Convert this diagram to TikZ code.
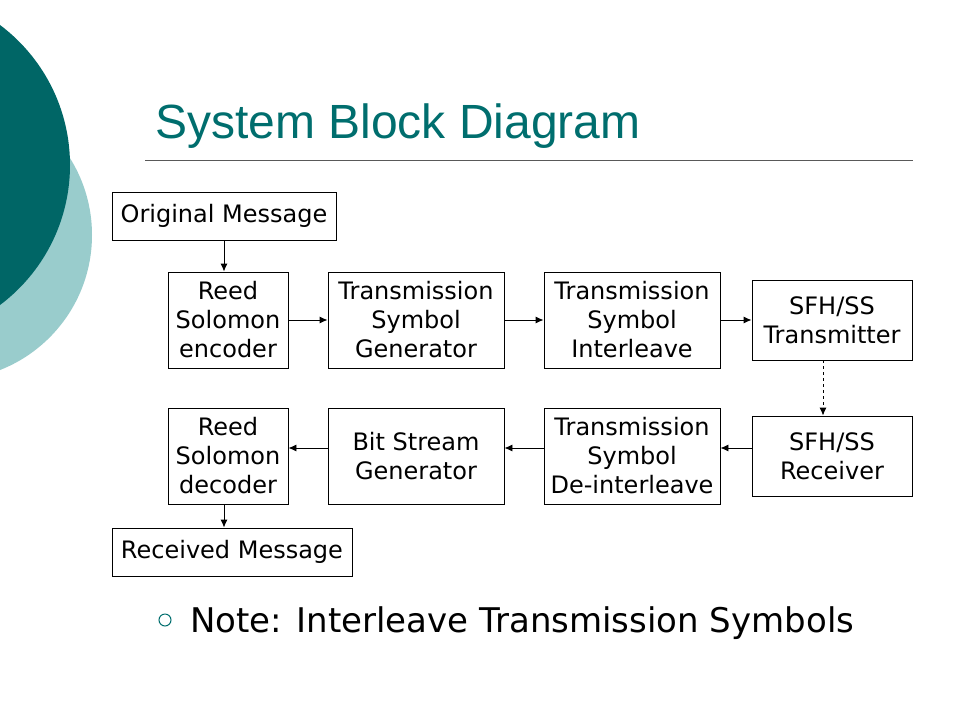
\documentclass[tikz,border=0pt]{standalone}
\usepackage{fontspec}
\setmainfont{DejaVu Sans}
\newfontfamily\titlefont{Liberation Sans}
\usetikzlibrary{arrows.meta}
\definecolor{darkteal}{RGB}{0,102,102}
\definecolor{lightteal}{RGB}{153,204,204}
\definecolor{titleteal}{RGB}{0,110,110}
\begin{document}
\begin{tikzpicture}[x=1pt,y=-1pt,
  blk/.style={draw=black,line width=0.9pt,inner sep=0pt,align=center,
    font=\fontsize{24}{29}\selectfont},
  conn/.style={line width=0.9pt,-{Latex[length=8pt,width=7pt]}}]
\useasboundingbox (0,0) rectangle (960,720);
\fill[white] (0,0) rectangle (960,720);
% decorative circles
\begin{scope}
\clip (0,0) rectangle (960,720);
\fill[lightteal] (-53,235) circle[radius=145];
\fill[darkteal] (-105,165) circle[radius=175];
\end{scope}
% title
\node[anchor=base west,inner sep=0pt,text=titleteal,font=\titlefont\fontsize{48}{56}\selectfont] (title) at (155,138) {System Block Diagram};
\draw[line width=0.8pt,gray!70!black] (145,160) -- (913,160);
% boxes
\node[blk,minimum width=224,minimum height=48] (orig) at (224,216) {Original Message};
\node[blk,minimum width=120,minimum height=96] (enc) at (228,320) {Reed\\Solomon\\encoder};
\node[blk,minimum width=176,minimum height=96] (gen) at (416,320) {Transmission\\Symbol\\Generator};
\node[blk,minimum width=176,minimum height=96] (intl) at (632,320) {Transmission\\Symbol\\Interleave};
\node[blk,minimum width=160,minimum height=80] (tx) at (832,320) {SFH/SS\\Transmitter};
\node[blk,minimum width=160,minimum height=80] (rx) at (832,456) {SFH/SS\\Receiver};
\node[blk,minimum width=176,minimum height=96] (dintl) at (632,456) {Transmission\\Symbol\\De-interleave};
\node[blk,minimum width=176,minimum height=96] (bsg) at (416,456) {Bit Stream\\Generator};
\node[blk,minimum width=120,minimum height=96] (dec) at (228,456) {Reed\\Solomon\\decoder};
\node[blk,minimum width=240,minimum height=48] (recv) at (232,552) {Received Message};
% connectors
\draw[conn] (orig.south) -- (orig.south |- enc.north);
\draw[conn] (enc.east) -- (gen.west);
\draw[conn] (gen.east) -- (intl.west);
\draw[conn] (intl.east) -- (tx.west);
\coordinate (txd) at (823,360);
\draw[conn,dashed] (txd) -- (txd |- rx.north);
\coordinate (rxl) at (752,448);
\draw[conn] (rxl) -- (rxl -| dintl.east);
\coordinate (dil) at (544,448);
\draw[conn] (dil) -- (dil -| bsg.east);
\coordinate (bsl) at (328,448);
\draw[conn] (bsl) -- (bsl -| dec.east);
\coordinate (decb) at (224,504);
\draw[conn] (decb) -- (decb |- recv.north);
% note
\draw[titleteal,line width=1pt] (165,620) circle[radius=6];
\node[anchor=base west,inner sep=0pt,font=\fontsize{34}{40}\selectfont] (note) at (190,632) {Note: Interleave Transmission Symbols};
\end{tikzpicture}
\end{document}
